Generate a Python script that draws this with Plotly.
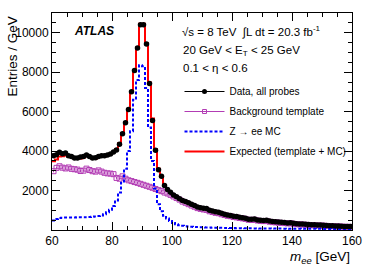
import numpy as np
import plotly.graph_objects as go

# Bin edges (1 GeV bins from 60 to 160 GeV)
bin_lo, bin_hi, bin_w = 60, 160, 1

data_all = [3770, 3820, 3940, 3870, 3900, 3770, 3720, 3650, 3650, 3700,
            3730, 3800, 3730, 3650, 3660, 3720, 3770, 3760, 3800, 3850,
            3950, 4050, 4350, 4880, 5440, 6110, 7010, 8090, 9220, 10400,
            10400, 9430, 7430, 5550, 4040, 3060, 2720, 2250, 2050, 1910,
            1780, 1680, 1580, 1500, 1440, 1380, 1300, 1240, 1160, 1130,
            1100, 1090, 1000, 960, 920, 900, 850, 800, 760, 740,
            700, 680, 640, 620, 590, 550, 540, 560, 510, 490,
            480, 500, 450, 430, 420, 400, 390, 380, 360, 370,
            340, 320, 310, 300, 290, 280, 270, 260, 250, 250,
            240, 230, 220, 210, 200, 200, 190, 180, 180, 175]

bkg_template = [2980, 3150, 3230, 3160, 3120, 3170, 3100, 3080, 3060, 2990,
                3010, 3110, 3040, 2980, 2960, 3020, 2960, 2900, 2870, 2860,
                2830, 2640, 2600, 2720, 2600, 2520, 2480, 2430, 2390, 2340,
                2290, 2240, 2190, 2140, 2080, 2020, 1970, 1900, 1850, 1780,
                1700, 1620, 1540, 1440, 1380, 1310, 1240, 1180, 1110, 1070,
                1040, 1020, 950, 910, 870, 850, 800, 760, 720, 700,
                660, 640, 610, 590, 560, 520, 510, 520, 480, 460,
                450, 460, 420, 400, 390, 370, 360, 350, 335, 340,
                315, 295, 285, 275, 265, 255, 245, 238, 228, 225,
                218, 208, 200, 190, 182, 180, 172, 164, 162, 158]

zee_mc = [480, 560, 610, 620, 630, 630, 630, 630, 640, 640,
          640, 650, 660, 670, 690, 710, 740, 800, 900, 1030,
          1220, 1500, 1900, 2400, 3100, 4000, 5000, 6600, 7600, 8350,
          8300, 7200, 5200, 3500, 2100, 1300, 950, 720, 580, 460,
          360, 290, 240, 210, 190, 175, 165, 155, 148, 140,
          135, 130, 125, 120, 116, 112, 108, 105, 102, 99,
          96, 94, 92, 90, 88, 86, 84, 82, 80, 79,
          78, 76, 75, 74, 72, 71, 70, 69, 68, 67,
          66, 65, 64, 63, 62, 61, 60, 60, 59, 58,
          57, 57, 56, 55, 55, 54, 54, 53, 53, 52]

expected = [3480, 3580, 3720, 3740, 3780, 3720, 3690, 3640, 3630, 3620,
            3680, 3760, 3700, 3640, 3620, 3700, 3720, 3740, 3790, 3850,
            3950, 4100, 4400, 4900, 5450, 6100, 7000, 8050, 9250, 10450,
            10450, 9450, 7480, 5650, 4100, 3100, 2700, 2280, 2050, 1920,
            1780, 1690, 1590, 1510, 1450, 1380, 1300, 1240, 1170, 1130,
            1100, 1080, 1010, 960, 925, 900, 850, 805, 760, 740,
            705, 680, 645, 620, 590, 555, 545, 555, 510, 490,
            480, 495, 450, 432, 420, 402, 390, 380, 362, 368,
            342, 322, 312, 302, 292, 282, 272, 262, 253, 250,
            242, 232, 222, 212, 203, 200, 190, 182, 180, 176]

x_ticks = [60, 80, 100, 120, 140, 160]
y_ticks = [2000, 4000, 6000, 8000, 10000]
y_ticktext = ["2000", "4000", "6000", "8000", "10000"]

edges = np.arange(bin_lo, bin_hi + bin_w, bin_w)
centers = 0.5 * (edges[:-1] + edges[1:])
for arr in (data_all, bkg_template, zee_mc, expected):
    assert len(arr) == len(centers)

def step(vals):
    return list(edges), list(vals) + [vals[-1]]

FONT = "Liberation Sans, Arial, Helvetica, sans-serif"
MAG = "#b23cb4"

fig = go.Figure()

# Background template (open squares)
fig.add_trace(go.Scatter(x=centers, y=bkg_template, mode="markers",
                         marker=dict(symbol="square-open", size=5, color=MAG, line=dict(width=1, color=MAG)),
                         error_y=dict(type="sqrt", color=MAG, thickness=1, width=0),
                         showlegend=False))
# Z->ee MC
sx, sy = step(zee_mc)
fig.add_trace(go.Scatter(x=sx, y=sy, mode="lines", line=dict(shape="hv", color="#0000ff", width=2, dash="3px,2px"),
                         showlegend=False))
# Expected
sx, sy = step(expected)
fig.add_trace(go.Scatter(x=sx, y=sy, mode="lines", line=dict(shape="hv", color="#ff0000", width=2),
                         showlegend=False))
# Data
fig.add_trace(go.Scatter(x=centers, y=data_all, mode="markers",
                         marker=dict(symbol="circle", size=5.5, color="black"),
                         error_y=dict(type="sqrt", color="black", thickness=1, width=0),
                         showlegend=False))

# Legend proxies
fig.add_trace(go.Scatter(x=[None], y=[None], mode="lines+markers", name="Data, all probes",
                         line=dict(color="black", width=1), marker=dict(size=5, color="black"), legendgroup="a"))
fig.add_trace(go.Scatter(x=[None], y=[None], mode="lines+markers", name="Background template",
                         line=dict(color=MAG, width=1), marker=dict(size=4, color=MAG, symbol="square-open"), legendgroup="b"))
fig.add_trace(go.Scatter(x=[None], y=[None], mode="lines", name="Z \u2192 ee MC",
                         line=dict(color="#0000ff", width=2, dash="3px,2px"), legendgroup="c"))
fig.add_trace(go.Scatter(x=[None], y=[None], mode="lines", name="Expected (template + MC)",
                         line=dict(color="#ff0000", width=2), legendgroup="d"))

axis_common = dict(showline=True, linecolor="black", linewidth=1, mirror="allticks",
                   ticks="inside", tickcolor="black", ticklen=8, tickwidth=1,
                   showgrid=False, zeroline=False,
                   tickfont=dict(family=FONT, size=12, color="black"))

fig.update_xaxes(range=[bin_lo, bin_hi], tickvals=x_ticks,
                 minor=dict(ticks="inside", dtick=5, ticklen=4, tickcolor="black", showgrid=False),
                 **axis_common)
fig.update_yaxes(range=[0, 11000], tickvals=y_ticks, ticktext=y_ticktext,
                 minor=dict(ticks="inside", dtick=500, ticklen=4, tickcolor="black", showgrid=False),
                 **axis_common)

anns = [
    dict(text="<b><i>ATLAS</i></b>", x=0.065, y=0.915, xref="paper", yref="paper",
         xanchor="left", yanchor="middle", showarrow=False, font=dict(family=FONT, size=12, color="black")),
    dict(text="\u221As = 8 TeV  \u222BL dt = 20.3 fb<sup>-1</sup>", x=0.427, y=0.915, xref="paper", yref="paper",
         xanchor="left", yanchor="middle", showarrow=False, font=dict(family=FONT, size=11.5, color="black")),
    dict(text="20 GeV < E<sub>T</sub> < 25 GeV", x=0.43, y=0.827, xref="paper", yref="paper",
         xanchor="left", yanchor="middle", showarrow=False, font=dict(family=FONT, size=11.5, color="black")),
    dict(text="0.1 < \u03B7 < 0.6", x=0.43, y=0.746, xref="paper", yref="paper",
         xanchor="left", yanchor="middle", showarrow=False, font=dict(family=FONT, size=11.5, color="black")),
    dict(text="Entries / GeV", x=-0.133, y=0.8, xref="paper", yref="paper",
         xanchor="center", yanchor="middle", textangle=-90, showarrow=False,
         font=dict(family=FONT, size=13.5, color="black")),
    dict(text="<i>m</i><sub><i>ee</i></sub> [GeV]", x=1.0, y=-0.08, xref="paper", yref="paper",
         xanchor="right", yanchor="top", showarrow=False, font=dict(family=FONT, size=13.5, color="black")),
]

fig.update_layout(
    width=374, height=268,
    margin=dict(l=52, r=20, t=13, b=37.5, pad=0),
    paper_bgcolor="white", plot_bgcolor="white",
    font=dict(family=FONT, color="black"),
    annotations=anns,
    legend=dict(x=0.425, y=0.705, xanchor="left", yanchor="top",
                bgcolor="rgba(0,0,0,0)", font=dict(family=FONT, size=10, color="black"),
                traceorder="grouped", tracegroupgap=1, itemwidth=40),
)

fig.write_html("out.html", config={"displayModeBar": False},
               post_script="document.body.style.margin='0';document.body.style.overflow='hidden';")
